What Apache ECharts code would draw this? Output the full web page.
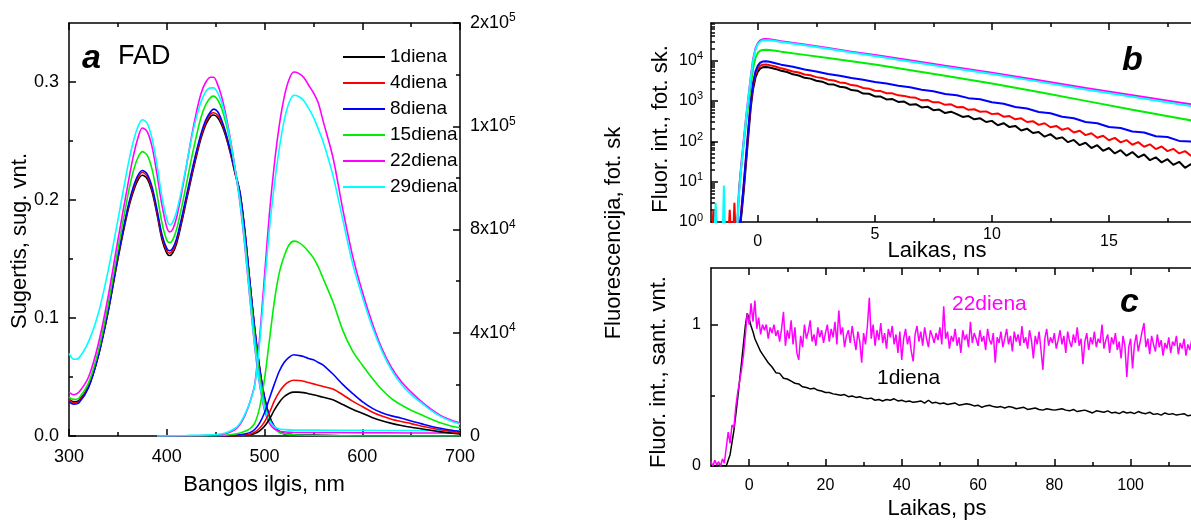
<!DOCTYPE html>
<html><head><meta charset="utf-8">
<script src="https://cdn.jsdelivr.net/npm/echarts@6/dist/echarts.min.js"></script>
<style>html,body{margin:0;padding:0;background:#fff;overflow:hidden}#c{width:1191px;height:522px}</style>
</head><body><div id="c"></div>
<script>
// ---------------- Panel a: absorption (left axis) ----------------
const seriesNames = ['1diena','4diena','8diena','15diena','22diena','29diena'];
const seriesColors = ['#000000','#ff0000','#0000ff','#00ee00','#ff00ff','#00ffff'];
const absWl = [300,305,310,320,330,340,350,360,365,370,375,380,385,390,395,400,403,406,410,415,420,425,430,435,440,445,448,452,456,460,465,470,475,480,485,490,495,500,505,510,515,520,530,550,600,650,700];
const absD1  = [.031,.029,.030,.042,.068,.105,.150,.190,.205,.216,.221,.218,.207,.188,.167,.155,.153,.155,.163,.180,.199,.218,.236,.252,.264,.271,.272,.270,.264,.255,.240,.222,.205,.172,.130,.090,.057,.032,.016,.008,.004,.002,.001,.0005,0,0,0];
const absD4  = [.031,.028,.029,.042,.068,.106,.151,.192,.207,.218,.2235,.220,.209,.190,.169,.157,.155,.157,.165,.182,.201,.220,.238,.254,.266,.273,.274,.272,.266,.257,.241,.223,.206,.173,.131,.091,.058,.033,.017,.008,.004,.002,.001,.0005,0,0,0];
const absD8  = [.029,.027,.028,.041,.068,.106,.152,.193,.209,.220,.225,.222,.211,.192,.171,.159,.157,.159,.167,.184,.203,.222,.240,.256,.268,.275,.277,.275,.268,.258,.242,.224,.206,.173,.131,.091,.058,.033,.017,.008,.004,.002,.001,.0005,0,0,0];
const absD15 = [.033,.031,.032,.045,.072,.111,.158,.203,.222,.235,.241,.238,.226,.205,.181,.166,.164,.166,.175,.193,.213,.234,.253,.270,.281,.287,.288,.285,.278,.267,.249,.226,.200,.166,.125,.085,.052,.028,.014,.007,.003,.002,.001,.0005,0,0,0];
const absD22 = [.037,.035,.037,.050,.078,.118,.166,.212,.234,.251,.261,.258,.245,.222,.196,.177,.173,.175,.185,.205,.228,.252,.273,.290,.300,.304,.304,.298,.288,.274,.252,.226,.197,.160,.117,.076,.044,.022,.011,.006,.004,.0035,.003,.003,.0028,.0026,.0025];
const absD29 = [.070,.065,.066,.080,.104,.140,.183,.228,.247,.261,.268,.265,.252,.230,.203,.184,.179,.181,.190,.208,.229,.251,.269,.283,.292,.295,.295,.291,.283,.271,.251,.226,.198,.162,.118,.077,.045,.024,.013,.008,.006,.0055,.005,.005,.0048,.0046,.0045];

// ---------------- Panel a: fluorescence (right axis) ----------------
const fluWl = [390,420,450,460,470,475,480,485,490,495,500,505,510,515,520,525,530,535,540,545,550,555,560,570,580,590,600,610,620,630,640,650,660,670,680,690,700];
const fluD1  = [0,0,0,30,100,180,300,500,1000,2000,3800,6500,10000,13000,15200,16500,17000,17000,16800,16400,16000,15500,15000,14000,12200,10400,8800,7200,5900,4900,4100,3400,2800,2200,1600,1200,800];
const fluD4  = [0,0,0,50,150,250,400,700,1500,3000,5500,9000,13500,17000,19500,21000,21600,21500,21200,20700,20200,19700,19200,18200,16000,13500,11400,9300,7700,6500,5600,4800,3900,3100,2400,1800,1300];
const fluD8  = [0,0,0,100,300,500,800,1300,2500,5000,9000,14500,20000,25000,28500,30500,31500,31200,30800,30000,29500,28500,27500,24000,20000,16500,13300,10800,9000,7800,6900,5800,4800,3800,3000,2300,1700];
const fluD15 = [0,0,100,300,800,1200,1800,2800,5000,11000,22000,37000,52000,63000,69500,74000,75500,75000,73500,71500,69000,65500,61000,52000,41000,33000,27500,22500,18000,14500,12000,10000,8300,6600,5100,4000,3200];
const fluD22 = [0,100,400,900,2500,4500,8000,13000,20000,38000,62000,86000,105000,120000,131000,138000,141000,140500,139000,136000,133000,129000,122000,108000,88000,70000,56000,44000,34000,26500,21000,17000,13500,10500,8000,6300,5000];
const fluD29 = [0,200,600,1200,3000,5000,8500,13000,19500,36000,58000,80000,97000,111000,122000,129000,132000,131500,130000,127000,123500,119000,114000,101000,84000,67000,54000,42500,33000,25500,20000,16000,13000,10000,7600,5900,4600];

// ---------------- Panel a: axis ticks ----------------
const aXTicks = [300,400,500,600,700];
const aXMinor = [350,450,550,650];
const absTickValues = [0,0.1,0.2,0.3];
const absTickLabels = ['0.0','0.1','0.2','0.3'];
const absMinor = [0.05,0.15,0.25];
const fluTickValues = [0,40000,80000,120000,160000];
const fluTickMant = ['0','4x10','8x10','1x10','2x10'];
const fluTickExp = ['','4','4','5','5'];
const fluMinor = [20000,60000,100000,140000];

// ---------------- Panel b: decay, log scale ----------------
const bRiseT = [-0.9,-0.8,-0.7,-0.6,-0.5,-0.4,-0.3,-0.2,-0.1,0,0.1,0.2,0.35,0.5,0.75];
const bRiseD1  = [0.5,0.5,1.5,6,30,150,700,2000,3800,5300,6300,6800,6900,6700,6200];
const bRiseD4  = [0.5,0.5,2,8,40,200,900,2500,4600,6300,7400,7900,7950,7700,7100];
const bRiseD8  = [0.5,0.5,2,9,45,220,1000,2900,5400,7500,8800,9400,9550,9300,8600];
const bRiseD15 = [0.5,7,25,90,300,850,2500,6500,11500,15500,17500,18300,18600,18300,17500];
const bRiseD22 = [0.5,6,30,110,400,1300,4000,11000,20000,27000,31500,33500,34000,33600,32000];
const bRiseD29 = [0.5,5,25,100,380,1200,3700,10000,18500,25500,29500,31500,32000,31600,30300];
const bSpikeT4 = [-1.95,-1.9,-1.85,-1.8,-1.75,-1.25,-1.2,-1.15,-1.05,-1.0,-0.95];
const bSpikeD4 = [0.5,2,0.5,2,0.5,0.5,2,0.5,0.5,3,0.5];
const bSpikeT29 = [-1.85,-1.8,-1.75,-1.5,-1.45,-1.4];
const bSpikeD29 = [0.5,3,0.5,0.5,8,0.5];
const bTailQ = [1,1.25,1.5,1.75,2,2.25,2.5,2.75,3,3.25,3.5,3.75,4,4.25,4.5,4.75,5,5.25,5.5,5.75,6,6.25,6.5,6.75,7,7.25,7.5,7.75,8,8.25,8.5,8.75,9,9.25,9.5,9.75,10,10.25,10.5,10.75,11,11.25,11.5,11.75,12,12.25,12.5,12.75,13,13.25,13.5,13.75,14,14.25,14.5,14.75,15,15.25,15.5,15.75,16,16.25,16.5,16.75,17,17.25,17.5,17.75,18,18.25,18.5,18.75,19,19.25,19.5,19.75,20];
const bTailD1 = [5600,5200,4550,4250, 3720,3560,3150,2990, 2600,2530,2240,2150, 1850,1790,1520,1500, 1290,1280,1090,1110, 940,960,800,830, 690,720,590,610, 500,540,470,400, 420,350,370,300, 320,250,280,225, 240,185,205,160, 170,130,150,115, 125,95,108,80, 92,68,80,58, 68,50,60,44, 54,40,47,34, 40,30,36,26, 31,22,27,19, 23,17,20,15, 17];
const bTailD4 = [6400,5900,5350,5050, 4500,4300,3880,3700, 3330,3200,2870,2760, 2460,2360,2090,2010, 1780,1750,1550,1540, 1370,1330,1230,1190, 1030,1050,920,920, 800,820,700,710, 600,620,535,550, 470,490,405,420, 350,370,300,315, 255,280,222,240, 192,212,165,182, 142,158,122,137, 106,121,94,107, 82,95,73,84, 64,74,57,65, 50,57,44,51, 39,44,34,38, 30];
const bTailH = [1,1.5,2,2.5,3,3.5,4,4.5,5,5.5,6,6.5,7,7.5,8,8.5,9,9.5,10,10.5,11,11.5,12,12.5,13,13.5,14,14.5,15,15.5,16,16.5,17,17.5,18,18.5,19,19.5,20];
const bTailD8 = [7900,6980,5990,5350,4650,4200,3690,3340,2920,2690,2370,2170,1880,1730,1480,1380,1170,1100,930,850,705,650,530,495,405,370,300,280,225,214,175,165,133,127,102,98,79,76,62];
const bTailC = [1,2,3,4,5,6,8,10,12,14,16,18,20];
const bTailD15 = [16600,13800,11500,9550,7940,6460,4170,2690,1660,1000,603,372,229];
const bTailD22 = [30200,25100,20400,16600,13800,11200,7410,5010,3240,2090,1380,912,603];
const bTailD29 = [28800,24000,19500,15800,13000,10500,6900,4650,3000,1920,1260,830,545];
const bXTicks = [0,5,10,15,20];
const bXRaised = [false,true,true,false,false];
const bXMinor = [2.5,7.5,12.5,17.5];
const bYTickExp = ['0','1','2','3','4'];
const bYMax = 85000;

// ---------------- Panel c: ps kinetics ----------------
const cT1 = [-10,-8,-6,-5,-4,-3,-2,-1.5,-1,-0.5,0,0.5,1,1.5,2,
 3,4,5,6,7,8,9,10,11,12,13,14,15,16,17,18,19,20,
 21,22,23,24,25,26,27,28,29,30,31,32,33,34,35,36,37,38,39,40,
 41,42,43,44,45,46,47,48,49,50,51,52,53,54,55,56,57,58,59,60,
 61,62,63,64,65,66,67,68,69,70,71,72,73,74,75,76,77,78,79,80,
 81,82,83,84,85,86,87,88,89,90,91,92,93,94,95,96,97,98,99,100,
 101,102,103,104,105,106,107,108,109,110,111,112,113,114,115,116,117];
const cD1 = [0,0.005,0,0.08,0.25,0.48,0.73,0.86,0.99,1.08,1.04,0.99,0.95,0.90,0.87,
 0.81,0.77,0.73,0.70,0.66,0.655,0.62,0.615,0.60,0.585,0.58,0.56,0.555,0.545,0.55,0.535,0.53,0.52,
 0.52,0.51,0.505,0.50,0.505,0.49,0.495,0.485,0.49,0.48,0.475,0.48,0.465,0.47,0.46,0.47,0.465,0.475,0.46,0.465,
 0.455,0.46,0.45,0.455,0.46,0.445,0.465,0.445,0.45,0.44,0.445,0.435,0.44,0.445,0.43,0.435,0.44,0.435,0.425,0.43,
 0.415,0.425,0.43,0.42,0.415,0.42,0.41,0.42,0.415,0.405,0.41,0.415,0.40,0.405,0.41,0.40,0.395,0.405,0.40,0.395,
 0.40,0.405,0.395,0.39,0.40,0.385,0.39,0.395,0.385,0.375,0.39,0.385,0.38,0.39,0.375,0.38,0.37,0.385,0.375,0.38,
 0.37,0.385,0.375,0.37,0.38,0.365,0.37,0.36,0.375,0.365,0.37,0.36,0.365,0.37,0.355,0.36,0.355];
const cT22 = [-10,-9.5,-9,-8.5,-8,-7.5,-7,-6.5,-6,-5.5,-5,-4.5,-4,-3.5,-3,-2.5,-2,-1.5,-1,-0.5,
 0,0.5,1,1.5,2,2.5,3,3.5,4,4.5,5,5.5,6,6.5,7,7.5,8,8.5,9,9.5,
 10,10.5,11,11.5,12,12.5,13,13.5,14,14.5,15,15.5,16,16.5,17,17.5,18,18.5,19,19.5,
 20,20.5,21,21.5,22,22.5,23,23.5,24,24.5,25,25.5,26,26.5,27,27.5,28,28.5,29,29.5,
 30,30.5,31,31.5,32,32.5,33,33.5,34,34.5,35,35.5,36,36.5,37,37.5,38,38.5,39,39.5,
 40,40.5,41,41.5,42,42.5,43,43.5,44,44.5,45,45.5,46,46.5,47,47.5,48,48.5,49,49.5,
 50,50.5,51,51.5,52,52.5,53,53.5,54,54.5,55,55.5,56,56.5,57,57.5,58,58.5,59,59.5,
 60,60.5,61,61.5,62,62.5,63,63.5,64,64.5,65,65.5,66,66.5,67,67.5,68,68.5,69,69.5,
 70,70.5,71,71.5,72,72.5,73,73.5,74,74.5,75,75.5,76,76.5,77,77.5,78,78.5,79,79.5,
 80,80.5,81,81.5,82,82.5,83,83.5,84,84.5,85,85.5,86,86.5,87,87.5,88,88.5,89,89.5,
 90,90.5,91,91.5,92,92.5,93,93.5,94,94.5,95,95.5,96,96.5,97,97.5,98,98.5,99,99.5,
 100,100.5,101,101.5,102,102.5,103,103.5,104,104.5,105,105.5,106,106.5,107,107.5,108,108.5,109,109.5,
 110,110.5,111,111.5,112,112.5,113,113.5,114,114.5,115,115.5,116,116.5,117];
const cD22 = [0.03,0.0,0.04,0.01,0.03,0.0,0.05,0.02,0.03,0.24,0.16,0.29,0.27,0.42,0.52,0.60,0.68,0.78,0.92,1.08,
 1.00,1.15,1.02,1.17,0.97,1.05,0.93,1.00,0.96,1.00,0.90,0.98,0.94,1.00,0.92,0.96,0.88,0.97,1.09,0.85,
 0.96,0.90,1.03,0.86,0.98,0.80,0.75,0.92,0.84,1.00,0.90,0.95,1.03,0.88,0.93,0.85,0.98,0.91,0.96,0.87,
 0.94,1.00,0.88,0.97,0.91,1.02,0.86,1.10,0.93,0.98,0.84,0.92,0.96,0.87,0.99,0.90,0.82,0.95,0.88,0.73,
 0.94,0.86,0.99,1.19,0.90,1.00,0.85,0.96,0.89,1.01,0.87,0.94,0.83,0.97,0.91,0.99,0.86,0.93,0.80,0.95,
 0.75,0.90,0.97,0.86,0.92,0.81,0.74,0.93,0.99,0.88,0.95,0.85,0.98,0.90,0.84,0.96,0.92,0.87,0.94,0.89,
 0.98,0.86,1.13,0.90,0.95,0.83,0.92,0.88,0.97,0.85,0.91,0.80,0.96,0.89,0.93,0.84,1.02,0.87,0.94,0.90,
 0.85,0.96,0.88,0.92,0.82,0.97,0.89,0.86,0.94,0.73,0.91,0.87,0.95,0.84,0.90,0.97,0.86,0.92,0.81,0.95,
 0.88,0.93,0.85,0.99,0.87,0.91,0.83,0.96,0.89,0.76,0.92,0.86,0.95,0.82,0.68,0.90,0.97,0.85,0.91,0.87,
 0.94,0.83,0.89,0.96,0.86,0.92,0.80,0.95,0.88,0.84,0.93,0.87,0.98,0.85,0.90,0.72,0.88,0.94,0.82,0.91,
 0.86,0.95,0.84,0.90,0.87,1.00,0.83,0.89,0.93,0.80,0.91,0.86,0.94,0.82,0.88,0.76,0.92,0.85,0.63,0.84,
 0.90,0.69,0.86,0.93,0.81,0.88,0.95,1.01,0.84,0.90,0.79,0.92,0.86,0.81,0.93,0.84,0.89,0.78,0.87,0.83,
 0.91,0.80,0.88,0.85,0.92,0.79,0.87,0.83,0.90,0.78,0.86,0.82,0.89,0.80,0.85];
const cXTicks = [0,20,40,60,80,100,120];
const cXMinor = [10,30,50,70,90,110];
const cYTicks = [0,1];
const cYLabels = ['0','1'];
const cYMinor = [0.5];

// ---------------- helpers ----------------
const FONT = '"Liberation Sans", Arial, Helvetica, sans-serif';
const zip = (xs, ys) => xs.map((x, i) => [x, ys[i]]);
const LS = {color: '#000', width: 1.5};

function axis(dimPos, gi, type, min, max, o) {
  o = o || {};
  const a = {
    gridIndex: gi, type: type, position: dimPos, min: min, max: max,
    silent: true, splitLine: {show: false}, minorTick: {show: false}, minorSplitLine: {show: false},
    axisLine: {show: !!o.line, onZero: false, lineStyle: LS},
    axisTick: {show: true, inside: true, length: o.len || 7, lineStyle: LS},
    axisLabel: {show: !!o.label, color: '#000', fontFamily: FONT, fontSize: o.fs || 18, margin: o.margin || 8}
  };
  if (o.ticks) a.axisTick.customValues = o.ticks;
  if (o.labelValues) a.axisLabel.customValues = o.labelValues;
  if (o.formatter) a.axisLabel.formatter = o.formatter;
  if (o.rich) a.axisLabel.rich = o.rich;
  if (o.extraLabel) Object.assign(a.axisLabel, o.extraLabel);
  return a;
}

const supRich = (fs, sfs) => ({
  m: {fontSize: fs, fontFamily: FONT, color: '#000', lineHeight: fs + 4},
  e: {fontSize: sfs, fontFamily: FONT, color: '#000', lineHeight: sfs, verticalAlign: 'top'}
});

const log10Minor = [];
[1, 10, 100, 1000, 10000].forEach(d => { for (let k = 2; k <= 9; k++) { if (d * k <= bYMax) log10Minor.push(Math.log10(d * k)); } });

const xAxes = [
  // panel a
  axis('bottom', 0, 'value', 300, 700, {line: true, label: true, ticks: aXTicks, labelValues: aXTicks, fs: 18, margin: 12}),
  axis('bottom', 0, 'value', 300, 700, {len: 4, ticks: aXMinor}),
  axis('top', 0, 'value', 300, 700, {line: true, ticks: aXTicks}),
  axis('top', 0, 'value', 300, 700, {len: 4, ticks: aXMinor}),
  // panel b
  axis('bottom', 1, 'value', -2, 20, {line: true, label: true, ticks: bXTicks, labelValues: bXTicks, fs: 16, margin: 5,
    formatter: (v) => { const i = bXTicks.indexOf(v); return bXRaised[i] ? '{u|' + v + '}' : '{d|' + v + '}'; },
    rich: {u: {fontSize: 16, fontFamily: FONT, color: '#000'}, d: {fontSize: 16, fontFamily: FONT, color: '#000', padding: [7, 0, 0, 0]}}}),
  axis('bottom', 1, 'value', -2, 20, {len: 4, ticks: bXMinor}),
  axis('top', 1, 'value', -2, 20, {line: true, ticks: bXTicks}),
  axis('top', 1, 'value', -2, 20, {len: 4, ticks: bXMinor}),
  // panel c
  axis('bottom', 2, 'value', -10, 125, {line: true, label: true, ticks: cXTicks, labelValues: cXTicks, fs: 16, margin: 12}),
  axis('bottom', 2, 'value', -10, 125, {len: 4, ticks: cXMinor}),
  axis('top', 2, 'value', -10, 125, {line: true, ticks: cXTicks}),
  axis('top', 2, 'value', -10, 125, {len: 4, ticks: cXMinor})
];

const logAxis = axis('left', 1, 'log', 1, bYMax, {line: true, label: true, fs: 16, margin: 8,
  formatter: (v) => { const e = Math.round(Math.log10(v)); return '{m|10}{e|' + bYTickExp[e] + '}'; },
  rich: supRich(16, 11), extraLabel: {showMaxLabel: false}});
logAxis.logBase = 10;

const yAxes = [
  axis('left', 0, 'value', 0, 0.35, {line: true, label: true, ticks: absTickValues, labelValues: absTickValues, fs: 18, margin: 10,
    formatter: (v) => absTickLabels[absTickValues.indexOf(v)]}),
  axis('left', 0, 'value', 0, 0.35, {len: 4, ticks: absMinor}),
  axis('right', 0, 'value', 0, 160000, {line: true, label: true, ticks: fluTickValues, labelValues: fluTickValues, margin: 10,
    formatter: (v) => { const i = fluTickValues.indexOf(v); return fluTickExp[i] ? '{m|' + fluTickMant[i] + '}{e|' + fluTickExp[i] + '}' : '{m|' + fluTickMant[i] + '}'; },
    rich: supRich(18, 12)}),
  axis('right', 0, 'value', 0, 160000, {len: 4, ticks: fluMinor}),
  logAxis,
  axis('left', 1, 'value', 0, Math.log10(bYMax), {len: 4, ticks: log10Minor}),
  axis('left', 2, 'value', 0, 1.4, {line: true, label: true, ticks: cYTicks, labelValues: cYTicks, fs: 16, margin: 10,
    formatter: (v) => cYLabels[cYTicks.indexOf(v)]}),
  axis('left', 2, 'value', 0, 1.4, {len: 4, ticks: cYMinor})
];

const series = [];
const absSets = [absD1, absD4, absD8, absD15, absD22, absD29];
const fluSets = [fluD1, fluD4, fluD8, fluD15, fluD22, fluD29];
absSets.forEach((d, i) => series.push({name: seriesNames[i], type: 'line', xAxisIndex: 0, yAxisIndex: 0, data: zip(absWl, d),
  symbol: 'none', smooth: 0.3, lineStyle: {color: seriesColors[i], width: 1.6}, itemStyle: {color: seriesColors[i]}, z: 3}));
fluSets.forEach((d, i) => series.push({name: seriesNames[i], type: 'line', xAxisIndex: 0, yAxisIndex: 2, data: zip(fluWl, d),
  symbol: 'none', smooth: 0.3, lineStyle: {color: seriesColors[i], width: 1.6}, itemStyle: {color: seriesColors[i]}, z: 3}));

const bSets = [
  zip(bRiseT, bRiseD1).concat(zip(bTailQ, bTailD1)),
  zip(bSpikeT4, bSpikeD4).concat(zip(bRiseT, bRiseD4), zip(bTailQ, bTailD4)),
  zip(bRiseT, bRiseD8).concat(zip(bTailH, bTailD8)),
  zip(bRiseT, bRiseD15).concat(zip(bTailC, bTailD15)),
  zip(bRiseT, bRiseD22).concat(zip(bTailC, bTailD22)),
  zip(bSpikeT29, bSpikeD29).concat(zip(bRiseT, bRiseD29), zip(bTailC, bTailD29))
];
bSets.forEach((d, i) => series.push({name: 'b ' + seriesNames[i], type: 'line', xAxisIndex: 4, yAxisIndex: 4, data: d,
  symbol: 'none', clip: true, lineStyle: {color: seriesColors[i], width: 2}, itemStyle: {color: seriesColors[i]}, z: 3}));

series.push({name: 'c 1diena', type: 'line', xAxisIndex: 8, yAxisIndex: 6, data: zip(cT1, cD1), symbol: 'none', clip: true,
  lineStyle: {color: '#000', width: 1.5}, itemStyle: {color: '#000'}, z: 3});
series.push({name: 'c 22diena', type: 'line', xAxisIndex: 8, yAxisIndex: 6, data: zip(cT22, cD22), symbol: 'none', clip: true,
  lineStyle: {color: '#ff00ff', width: 1.5}, itemStyle: {color: '#ff00ff'}, z: 3});

function txt(text, x, y, font, color, align, rot) {
  return {type: 'text', x: x, y: y, rotation: rot || 0, silent: true, z: 100,
    style: {text: text, font: font, fill: color || '#000', align: align || 'center', verticalAlign: 'middle',
      textAlign: align || 'center', textVerticalAlign: 'middle'}};
}
const R = Math.PI / 2;
const graphics = [
  txt('a', 82, 59, 'italic bold 34px ' + FONT, '#000', 'left'),
  txt('FAD', 118, 57, '27px ' + FONT, '#000', 'left'),
  txt('b', 1122, 61, 'italic bold 34px ' + FONT, '#000', 'left'),
  txt('c', 1120, 303, 'italic bold 34px ' + FONT, '#000', 'left'),
  txt('22diena', 952, 304, '21px ' + FONT, '#ff00ff', 'left'),
  txt('1diena', 877, 378, '21px ' + FONT, '#000', 'left'),
  txt('Sugertis, sug. vnt.', 20, 241, '22px ' + FONT, '#000', 'center', R),
  txt('Fluorescencija, fot. sk', 614, 233, '22px ' + FONT, '#000', 'center', R),
  txt('Bangos ilgis, nm', 264, 485, '22px ' + FONT),
  txt('Fluor. int., fot. sk.', 661, 129, '22px ' + FONT, '#000', 'center', R),
  txt('Laikas, ns', 937, 251, '22px ' + FONT),
  txt('Fluor. int., sant. vnt.', 659, 372, '22px ' + FONT, '#000', 'center', R),
  txt('Laikas, ps', 937, 509, '22px ' + FONT)
];

const chart = echarts.init(document.getElementById('c'), null, {renderer: 'canvas'});
chart.setOption({
  animation: false,
  backgroundColor: '#ffffff',
  textStyle: {fontFamily: FONT},
  grid: [
    {left: 69, top: 23, width: 391, height: 413, containLabel: false, outerBoundsMode: 'none'},
    {left: 711, top: 23, width: 515, height: 199, containLabel: false, outerBoundsMode: 'none'},
    {left: 711, top: 268, width: 515, height: 198, containLabel: false, outerBoundsMode: 'none'}
  ],
  legend: {
    data: seriesNames.map(n => ({name: n, icon: 'rect'})), orient: 'vertical', left: 338, top: 42,
    itemWidth: 42, itemHeight: 2, itemGap: 6,
    textStyle: {fontSize: 19, fontFamily: FONT, color: '#000', lineHeight: 20}, selectedMode: false
  },
  xAxis: xAxes,
  yAxis: yAxes,
  series: series,
  graphic: graphics
});
</script></body></html>
